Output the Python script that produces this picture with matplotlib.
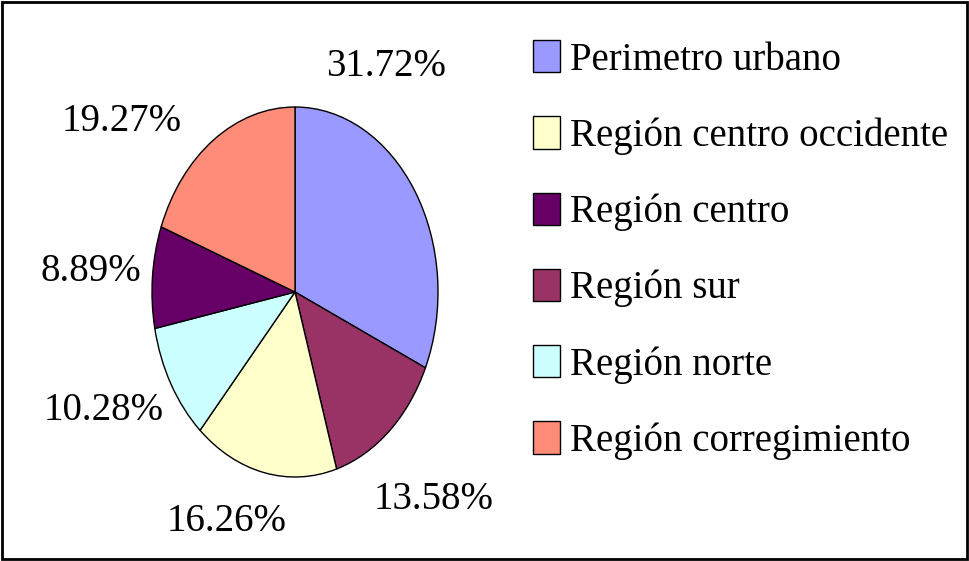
import matplotlib
matplotlib.use("Agg")
import matplotlib.pyplot as plt
from matplotlib.patches import Rectangle

plt.rcParams['font.family'] = ['Liberation Serif', 'DejaVu Serif']

# pie order (clockwise from 12 o'clock)
pie_names = ['Perimetro urbano', 'Región sur', 'Región centro occidente',
             'Región norte', 'Región centro', 'Región corregimiento']
pie_values = [31.72, 13.58, 16.26, 10.28, 8.89, 19.27]
pie_colors = ['#9999FF', '#993366', '#FFFFCC', '#CCFFFF', '#660066', '#FF8C78']

# legend order
legend_names = ['Perimetro urbano', 'Región centro occidente', 'Región centro',
                'Región sur', 'Región norte', 'Región corregimiento']

# label placement (data units of the unit pie)
label_pos = [(0.64, 1.22), (0.97, -1.12), (-0.48, -1.24),
             (-1.34, -0.64), (-1.43, 0.11), (-1.21, 0.92)]

W, H = 969, 561
fig = plt.figure(figsize=(W / 100, H / 100), dpi=100)

cx, cy, rx, ry = 295, 292, 143, 185
ax = fig.add_axes([(cx - rx) / W, (H - cy - ry) / H, 2 * rx / W, 2 * ry / H])
wedges, _ = ax.pie(pie_values, colors=pie_colors, startangle=90, counterclock=False,
                   wedgeprops=dict(edgecolor='black', linewidth=1))
ax.set_aspect('auto')
ax.set_xlim(-1, 1)
ax.set_ylim(-1, 1)

for v, (x, y) in zip(pie_values, label_pos):
    ax.text(x, y, f'{v:.2f}%', ha='center', va='center', fontsize=28, clip_on=False)

handles = [wedges[pie_names.index(n)] for n in legend_names]
fig.legend(handles, legend_names, loc='upper left', bbox_to_anchor=(533 / W, 1 - 40 / H),
           frameon=False, fontsize=28, handlelength=0.7, handleheight=0.9,
           handletextpad=0.25, labelspacing=0.97, borderaxespad=0, borderpad=0)

fig.patches.append(Rectangle((0.002, 0.003), 0.996, 0.994, transform=fig.transFigure,
                             fill=False, edgecolor='black', linewidth=2))

fig.savefig('out.png', dpi=100)
